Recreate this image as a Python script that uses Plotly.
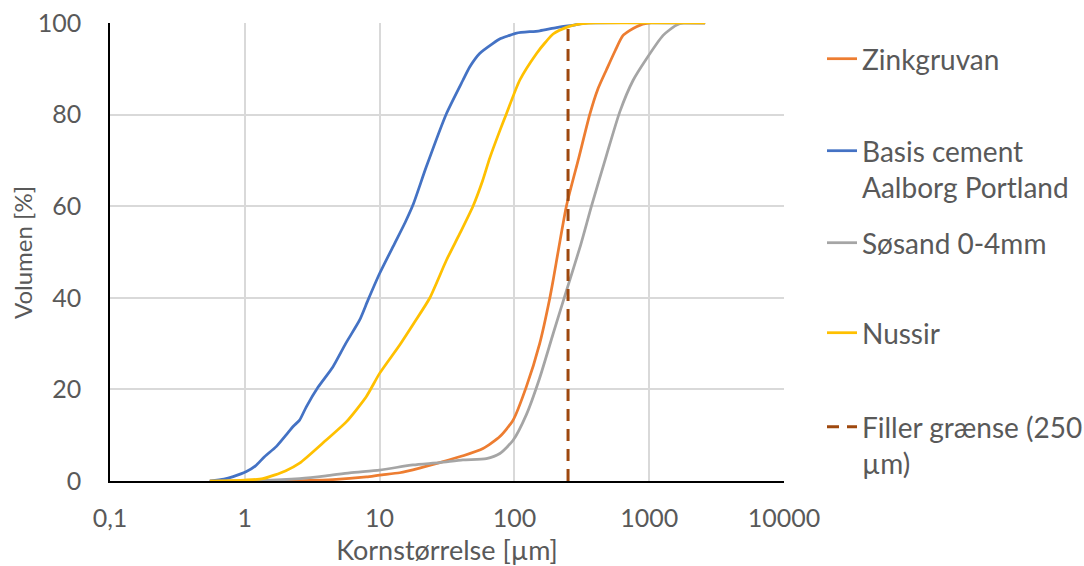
import plotly.graph_objects as go

# ---- data ----
zink_x = [0.55, 1.7, 4.5, 8.0, 10, 14.1, 19.8, 27.9, 41.5, 58.5, 78, 97.8, 122.7, 154, 183, 194, 243, 300, 362, 415, 482, 560, 640, 805, 1000, 2600]
zink_y = [0, 0, 0.3, 0.9, 1.3, 1.8, 2.8, 4.0, 5.5, 7.1, 9.7, 13.3, 20.6, 30, 39.9, 43.9, 60, 70.5, 80.0, 85.5, 89.8, 94.0, 97.3, 99.2, 100, 100]

basis_x = [0.55, 0.7, 0.82, 1.02, 1.2, 1.4, 1.71, 2.02, 2.3, 2.55, 2.86, 3.5, 4.5, 5.6, 7.1, 8.2, 10, 13, 15.5, 17.7, 22.2, 31.3, 41.5, 46.6, 55, 69, 79, 90, 104, 154, 205, 270, 350, 2600]
basis_y = [0, 0.4, 0.95, 2.0, 3.3, 5.3, 7.5, 10.0, 12.0, 13.3, 16.2, 20.5, 24.9, 30.0, 35.1, 39.5, 45.3, 52.0, 56.5, 60.3, 68.6, 80.2, 87.5, 90.4, 93.3, 95.5, 96.6, 97.2, 97.8, 98.3, 99.0, 99.5, 100, 100]

sosand_x = [0.55, 1.3, 2.55, 4.0, 6.0, 10, 17.7, 27.9, 41.5, 61.9, 78, 97.8, 122.7, 154, 194, 243, 310, 373, 482, 605, 760, 955, 1268, 1585, 1800, 2600]
sosand_y = [0, 0.1, 0.5, 1.1, 1.8, 2.4, 3.5, 4.0, 4.6, 4.9, 6.0, 8.9, 14.5, 22.5, 32.2, 41.5, 51.5, 60.0, 71.1, 80.6, 87.5, 92.2, 97.3, 99.5, 100, 100]

nussir_x = [0.55, 1.0, 1.36, 2.0, 2.55, 4.0, 5.66, 7.96, 10, 14.1, 18, 23.5, 31.3, 39.3, 49.3, 58, 65.6, 78, 87.3, 109.5, 145.6, 170, 193.7, 246, 310, 400, 2600]
nussir_y = [0, 0.2, 0.5, 2.2, 3.9, 8.9, 12.9, 18.4, 23.5, 29.7, 34.5, 39.9, 48.2, 54.0, 60.0, 65.5, 70.5, 76.5, 80.2, 87.5, 93.3, 95.8, 97.6, 99.1, 99.8, 100, 100]

filler_x = [250, 250]
filler_y = [0, 100]

x_tickvals = [0.1, 1, 10, 100, 1000, 10000]
x_ticktext = ["0,1", "1", "10", "100", "1000", "10000"]
y_tickvals = [0, 20, 40, 60, 80, 100]

names = ["Zinkgruvan", "Basis cement<br>Aalborg Portland", "Søsand 0-4mm", "Nussir", "Filler grænse (250<br>µm)"]
colors = ["#ED7D31", "#4472C4", "#A5A5A5", "#FFC000", "#9E480E"]

# ---- figure ----
W, H = 1084, 566
L, R, T, B = 110, 300, 23, 85
pw, ph = W - L - R, H - T - B
FONT = "Lato"
TXT = "#595959"

series = [
    (zink_x, zink_y),
    (basis_x, basis_y),
    (sosand_x, sosand_y),
    (nussir_x, nussir_y),
]

legend_ids = ["legend", "legend2", "legend3", "legend4", "legend5"]
legend_centers_px = [59, 169, 243, 333, 445]

fig = go.Figure()
for i, (xs, ys) in enumerate(series):
    fig.add_trace(go.Scatter(x=xs, y=ys, mode="lines", name=names[i],
                             line=dict(color=colors[i], width=2.75, shape="spline", smoothing=0.6),
                             legend=legend_ids[i], hoverinfo="skip"))
fig.add_trace(go.Scatter(x=filler_x, y=filler_y, mode="lines", name=names[4],
                         line=dict(color=colors[4], width=3, dash="12px,8px"),
                         legend=legend_ids[4], hoverinfo="skip"))

legend_x = (822 - L) / pw
layout_legends = {}
for lid, cy in zip(legend_ids, legend_centers_px):
    layout_legends[lid] = dict(
        x=legend_x, xanchor="left",
        y=(H - B - cy) / ph, yanchor="middle",
        valign="top", itemwidth=30,
        bgcolor="rgba(0,0,0,0)",
        font=dict(family=FONT, size=28, color=TXT),
        itemclick=False, itemdoubleclick=False,
    )

fig.update_layout(
    width=W, height=H,
    margin=dict(l=L, r=R, t=T, b=B, autoexpand=False),
    paper_bgcolor="white", plot_bgcolor="white",
    font=dict(family=FONT, size=25, color=TXT),
    showlegend=True,
    **layout_legends,
)

fig.update_xaxes(
    type="log", range=[-1, 4],
    tickvals=x_tickvals, ticktext=x_ticktext,
    showgrid=True, gridcolor="#D9D9D9", gridwidth=1.5,
    showline=True, linecolor="black", linewidth=1.5,
    zeroline=False, ticks="", automargin=False,
    ticklabelstandoff=14,
    tickfont=dict(family=FONT, size=25, color=TXT),
    title=dict(text="Kornstørrelse [µm]", font=dict(family=FONT, size=27, color=TXT), standoff=11),
)
fig.update_yaxes(
    range=[0, 100], tickvals=y_tickvals,
    showgrid=True, gridcolor="#D9D9D9", gridwidth=1.5,
    showline=True, linecolor="black", linewidth=1.5,
    zeroline=False, ticks="", automargin=False,
    ticklabelstandoff=22,
    tickfont=dict(family=FONT, size=25, color=TXT),
)

fig.add_annotation(
    text="Volumen [%]", textangle=-90,
    xref="paper", yref="paper",
    x=(22 - L) / pw, y=0.5,
    xanchor="center", yanchor="middle",
    showarrow=False,
    font=dict(family=FONT, size=24, color=TXT),
)

fig.write_html("out.html")
